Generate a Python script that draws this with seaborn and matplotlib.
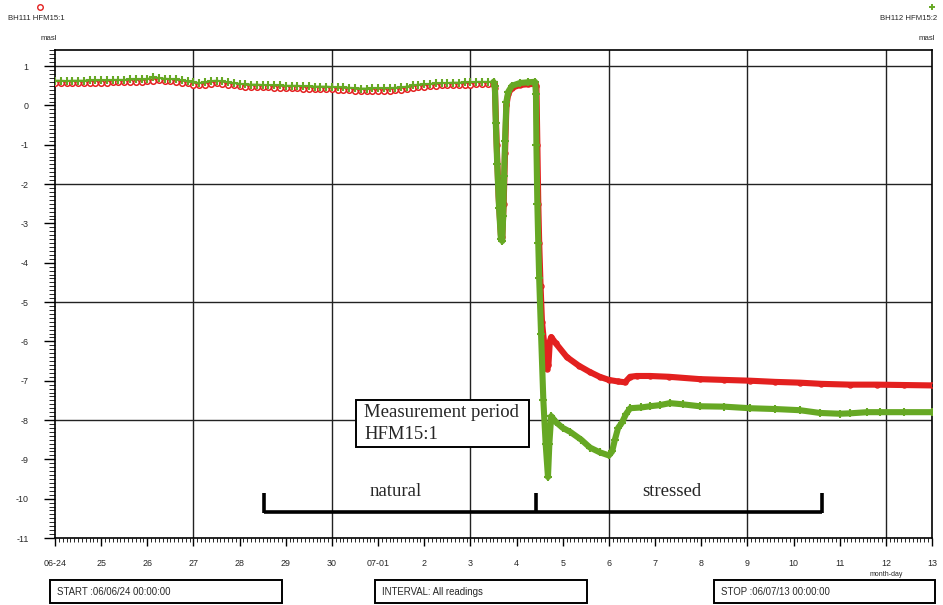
import numpy as np
import pandas as pd
import matplotlib
matplotlib.use("Agg")
import matplotlib.pyplot as plt
import seaborn as sns
from matplotlib.patches import Rectangle
from matplotlib.lines import Line2D
from matplotlib.ticker import MultipleLocator, FixedLocator

# ---- axis labels -------------------------------------------------------
day_labels = ["06-24", "25", "26", "27", "28", "29", "30", "07-01", "2", "3",
              "4", "5", "6", "7", "8", "9", "10", "11", "12", "13"]
y_major = list(range(-11, 2))

# ---- undisturbed period: readings every 3 hours (days since 06-24) -----
early_days = np.arange(77) / 8.0
bh111_early = [
    0.57, 0.57, 0.56, 0.57, 0.57, 0.57, 0.58, 0.58,
    0.58, 0.58, 0.59, 0.59, 0.59, 0.60, 0.60, 0.60,
    0.61, 0.63, 0.64, 0.62, 0.61, 0.60, 0.58, 0.56,
    0.53, 0.51, 0.52, 0.55, 0.56, 0.55, 0.53, 0.51,
    0.49, 0.48, 0.47, 0.47, 0.46, 0.46, 0.45, 0.45,
    0.44, 0.44, 0.44, 0.43, 0.43, 0.42, 0.42, 0.42,
    0.41, 0.40, 0.40, 0.39, 0.38, 0.37, 0.37, 0.38,
    0.38, 0.38, 0.38, 0.39, 0.40, 0.42, 0.45, 0.47,
    0.48, 0.49, 0.50, 0.51, 0.51, 0.52, 0.52, 0.53,
    0.53, 0.54, 0.54, 0.54, 0.55,
]
bh112_early = [
    0.63, 0.63, 0.62, 0.63, 0.63, 0.63, 0.64, 0.64,
    0.64, 0.64, 0.65, 0.65, 0.65, 0.66, 0.66, 0.66,
    0.67, 0.72, 0.70, 0.68, 0.67, 0.66, 0.64, 0.62,
    0.59, 0.57, 0.59, 0.62, 0.63, 0.61, 0.59, 0.57,
    0.55, 0.54, 0.53, 0.53, 0.52, 0.52, 0.51, 0.51,
    0.50, 0.50, 0.50, 0.49, 0.49, 0.48, 0.48, 0.48,
    0.47, 0.46, 0.46, 0.45, 0.44, 0.43, 0.43, 0.44,
    0.44, 0.44, 0.44, 0.45, 0.46, 0.48, 0.51, 0.53,
    0.54, 0.55, 0.56, 0.57, 0.57, 0.58, 0.58, 0.59,
    0.59, 0.60, 0.60, 0.60, 0.60,
]

# ---- disturbed period (test pumping) -----------------------------------
bh111_days = [9.50, 9.53, 9.57, 9.61, 9.66, 9.69, 9.72, 9.75, 9.78, 9.82,
              9.90, 10.07, 10.25, 10.40, 10.43, 10.45, 10.47, 10.49, 10.52,
              10.55, 10.62, 10.66, 10.69, 10.72, 10.75, 10.85, 11.09, 11.35,
              11.59, 11.80, 12.00, 12.20, 12.35, 12.46, 12.60, 12.89, 13.30,
              13.97, 14.50, 15.06, 15.60, 16.14, 16.60, 17.22, 17.80, 18.40,
              19.00]
bh111_level = [0.55, 0.45, -1.00, -2.30, -3.30, -3.35, -2.50, -1.20, 0.00,
               0.30, 0.45, 0.52, 0.54, 0.55, 0.50, -1.00, -2.50, -3.50,
               -4.60, -5.50, -6.30, -6.70, -6.60, -6.00, -5.89, -6.05,
               -6.40, -6.62, -6.78, -6.90, -6.98, -7.02, -7.04, -6.90,
               -6.88, -6.88, -6.90, -6.96, -6.98, -7.00, -7.03, -7.05,
               -7.08, -7.10, -7.10, -7.11, -7.12]

bh112_days = [9.50, 9.53, 9.55, 9.58, 9.62, 9.66, 9.69, 9.71, 9.73, 9.75,
              9.78, 9.82, 9.90, 10.07, 10.25, 10.40, 10.42, 10.43, 10.45,
              10.47, 10.49, 10.53, 10.58, 10.63, 10.68, 10.71, 10.75, 10.85,
              11.00, 11.16, 11.40, 11.59, 11.80, 12.00, 12.07, 12.13, 12.20,
              12.28, 12.37, 12.46, 12.70, 12.89, 13.11, 13.32, 13.60, 13.97,
              14.50, 15.06, 15.60, 16.14, 16.57, 17.00, 17.22, 17.60, 17.87,
              18.40, 19.00]
bh112_level = [0.60, 0.50, -0.45, -1.50, -2.60, -3.40, -3.45, -2.80, -1.80,
               -0.90, 0.10, 0.35, 0.50, 0.57, 0.59, 0.60, 0.30, -1.00,
               -2.50, -3.50, -4.40, -5.80, -7.50, -8.60, -9.45, -8.60,
               -7.90, -8.05, -8.20, -8.30, -8.50, -8.70, -8.82, -8.90,
               -8.80, -8.50, -8.20, -8.07, -7.85, -7.70, -7.68, -7.65,
               -7.62, -7.57, -7.60, -7.65, -7.66, -7.70, -7.72, -7.75,
               -7.82, -7.84, -7.83, -7.80, -7.80, -7.80, -7.80]

# ---- styling ------------------------------------------------------------
RED = "#e3201f"
GREEN = "#66a824"
sns.set_style("white")
plt.rcParams["font.family"] = ["Liberation Sans", "DejaVu Sans"]

W, H = 943, 605
fig = plt.figure(figsize=(W / 100, H / 100), dpi=100)
ax = fig.add_axes([55 / W, 1 - 538 / H, (932 - 55) / W, (538 - 50) / H])


def fx(px):
    return px / W


def fy(py):
    return 1 - py / H


# reference grid every 3 days / every 3 m
for d in range(3, 19, 3):
    ax.axvline(d, color="#222222", lw=1.0, zorder=1)
for v in (1, -2, -5, -8):
    ax.axhline(v, color="#222222", lw=1.0, zorder=1)

early = pd.DataFrame({"day": early_days, "BH111": bh111_early, "BH112": bh112_early})
late111 = pd.DataFrame({"day": bh111_days, "level": bh111_level})
late112 = pd.DataFrame({"day": bh112_days, "level": bh112_level})

# BH111 HFM15:1 (open circles)
sns.lineplot(data=early, x="day", y="BH111", ax=ax, color=RED, lw=1.4,
             marker="o", ms=4.0, mfc="white", mec=RED, mew=1.1,
             sort=False, estimator=None, zorder=3)
sns.lineplot(data=late111, x="day", y="level", ax=ax, color=RED, lw=4.4,
             marker="o", ms=3.6, mfc="none", mec=RED, mew=1.0,
             sort=False, estimator=None, zorder=3)
# BH112 HFM15:2 (plus signs)
sns.lineplot(data=early, x="day", y="BH112", ax=ax, color=GREEN, lw=1.4,
             marker="+", ms=5.5, mec=GREEN, mew=1.5,
             sort=False, estimator=None, zorder=4)
sns.lineplot(data=late112, x="day", y="level", ax=ax, color=GREEN, lw=4.4,
             marker="+", ms=5.5, mec=GREEN, mew=1.5,
             sort=False, estimator=None, zorder=4)

ax.set_xlim(0, 19)
ax.set_ylim(-11, 1.41)
ax.set_xlabel("")
ax.set_ylabel("")

ax.xaxis.set_major_locator(FixedLocator(range(20)))
ax.set_xticklabels(day_labels)
ax.xaxis.set_minor_locator(MultipleLocator(1 / 12))
ax.yaxis.set_major_locator(FixedLocator(y_major))
ax.set_yticklabels([str(v) for v in y_major])
ax.yaxis.set_minor_locator(MultipleLocator(0.1))

ax.tick_params(axis="x", which="major", direction="out", length=6, width=1,
               pad=9, labelsize=6.4, color="black")
ax.tick_params(axis="x", which="minor", direction="out", length=3, width=0.7)
ax.tick_params(axis="y", which="major", direction="out", length=8, width=1,
               pad=11, labelsize=6.4, color="black")
ax.tick_params(axis="y", which="minor", direction="out", length=4, width=0.7)
ax.tick_params(bottom=True, left=True, top=False, right=False)
ax.tick_params(which="minor", bottom=True, left=True, top=False, right=False)

for s in ax.spines.values():
    s.set_visible(True)
    s.set_color("black")
    s.set_linewidth(1.2)

# ---- measurement period annotation ---------------------------------------
serif = ["Liberation Serif", "DejaVu Serif"]
ax.add_patch(Rectangle((6.52, -8.69), 10.27 - 6.52, 1.20, facecolor="white",
                       edgecolor="black", lw=1.4, zorder=5))
ax.text(6.70, -7.80, "Measurement period", family=serif, fontsize=13.5,
        va="center", ha="left", zorder=6)
ax.text(6.70, -8.37, "HFM15:1", family=serif, fontsize=13.5,
        va="center", ha="left", zorder=6)

bracket_x = [4.53, 10.42, 16.62]
bracket_lo, bracket_hi = -10.34, -9.86
ax.plot([bracket_x[0], bracket_x[2]], [bracket_lo, bracket_lo], color="black",
        lw=2.6, solid_capstyle="butt", zorder=5)
for bx in bracket_x:
    ax.plot([bx, bx], [bracket_lo - 0.03, bracket_hi], color="black", lw=2.6,
            solid_capstyle="butt", zorder=5)
ax.text(7.39, -9.83, "natural", family=serif, fontsize=13.5, ha="center",
        va="center", zorder=6)
ax.text(13.37, -9.83, "stressed", family=serif, fontsize=13.5, ha="center",
        va="center", zorder=6)

# ---- series headers ------------------------------------------------------
fig.add_artist(Line2D([fx(40)], [fy(7)], marker="o", ms=4, mfc="none",
                      mec=RED, mew=1.0, transform=fig.transFigure))
fig.text(fx(8), fy(19), "BH111 HFM15:1", fontsize=5.6, ha="left", va="center")
fig.text(fx(49), fy(38), "masl", fontsize=5.6, ha="center", va="center")
fig.add_artist(Line2D([fx(932)], [fy(7)], marker="+", ms=5, mec=GREEN,
                      mew=1.4, transform=fig.transFigure))
fig.text(fx(937), fy(19), "BH112 HFM15:2", fontsize=5.6, ha="right", va="center")
fig.text(fx(935), fy(38), "masl", fontsize=5.6, ha="right", va="center")
fig.text(fx(886), fy(574), "month-day", fontsize=5.0, ha="center", va="center")

# ---- footer boxes --------------------------------------------------------
for (x0, x1, label) in ((50, 282, "START :06/06/24 00:00:00"),
                        (375, 587, "INTERVAL: All readings"),
                        (714, 935, "STOP :06/07/13 00:00:00")):
    fig.add_artist(Rectangle((fx(x0), fy(603)), fx(x1 - x0), (603 - 580) / H,
                             facecolor="white", edgecolor="black", lw=1.4,
                             transform=fig.transFigure))
    fig.text(fx(x0 + 7), fy(592), label, fontsize=6.9, ha="left", va="center")

fig.savefig("out.png", dpi=100)
